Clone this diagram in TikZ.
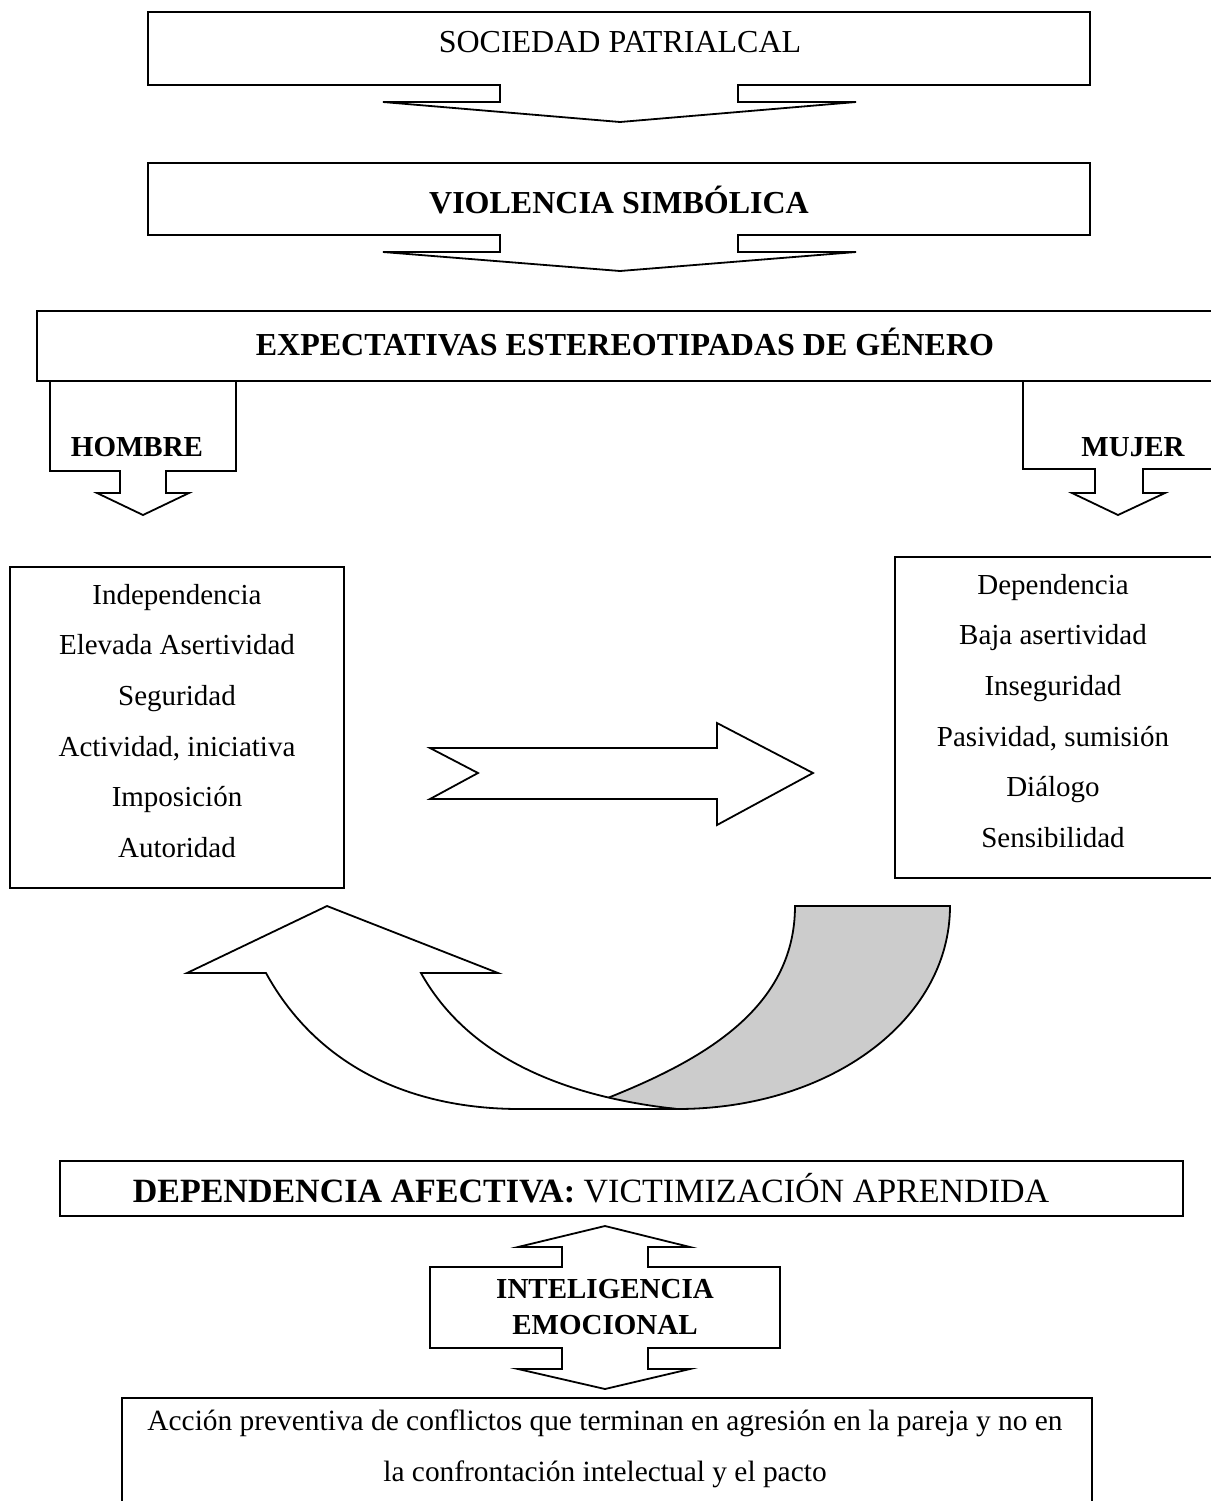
\documentclass[tikz,border=0pt]{standalone}
\usepackage{fontspec}
\setmainfont{Liberation Serif}
\definecolor{shade}{HTML}{CCCCCC}
\begin{document}
\begin{tikzpicture}[x=0.5pt,y=-0.5pt,
  shapeline/.style={draw=black,line width=0.9pt,line join=miter,fill=white},
  txt/.style={inner sep=0pt,font=\fontsize{14.5}{25.35}\selectfont,align=center},
  btxt/.style={txt,font=\fontsize{14.5}{18}\selectfont\bfseries},
  htxt/.style={inner sep=0pt,align=center,font=\fontsize{16}{19}\selectfont}]
\clip (0,0) rectangle (1211,1501);
\fill[white] (0,0) rectangle (1211,1501);
% callout 1
\draw[shapeline] (148,12) -- (1090,12) -- (1090,85) -- (738,85) -- (738,102) -- (856,102) -- (620,122) -- (383,102) -- (500,102) -- (500,85) -- (148,85) -- cycle;
\node[htxt] (soc) at (620,42) {SOCIEDAD PATRIALCAL};
% callout 2
\draw[shapeline] (148,163) -- (1090,163) -- (1090,235) -- (738,235) -- (738,252) -- (856,252) -- (620,271) -- (383,252) -- (500,252) -- (500,235) -- (148,235) -- cycle;
\node[htxt,font=\fontsize{16}{19}\selectfont\bfseries] (vio) at (619,200) {VIOLENCIA SIMBÓLICA};
% box 3
\draw[shapeline] (37,311) rectangle (1216,381);
\node[htxt,font=\fontsize{16}{19}\selectfont\bfseries] (exp) at (625,342) {EXPECTATIVAS ESTEREOTIPADAS DE GÉNERO};
% hombre
\draw[shapeline] (50,381) -- (236,381) -- (236,471) -- (166,471) -- (166,493) -- (189,493) -- (143,515) -- (97,493) -- (120,493) -- (120,471) -- (50,471) -- cycle;
\node[btxt] (hom) at (137,447) {HOMBRE};
% mujer
\draw[shapeline] (1023,381) -- (1213,381) -- (1213,469) -- (1143,469) -- (1143,493) -- (1165,493) -- (1118,515) -- (1072,493) -- (1095,493) -- (1095,469) -- (1023,469) -- cycle;
\node[btxt] (muj) at (1133,447) {MUJER};
% list boxes
\draw[shapeline] (10,567) rectangle (344,888);
\node[txt] (lh) at (177,721) {Independencia\\Elevada Asertividad\\Seguridad\\Actividad, iniciativa\\Imposición\\Autoridad};
\draw[shapeline] (895,557) rectangle (1216,878);
\node[txt] (lm) at (1053,711) {Dependencia\\Baja asertividad\\Inseguridad\\Pasividad, sumisión\\Diálogo\\Sensibilidad};
% middle arrow
\draw[shapeline] (430,748) -- (717,748) -- (717,723) -- (813,773) -- (717,825) -- (717,799) -- (430,799) -- (478,773) -- cycle;
% curved arrows
\draw[shapeline,fill=shade] (795,906) -- (950,906) .. controls (950,1020) and (830,1109) .. (677,1109)
   .. controls (650,1107) and (625,1105) .. (600,1101)
   .. controls (700,1062) and (795,1010) .. cycle;
\draw[shapeline] (677,1109) -- (520,1109) .. controls (410,1109) and (317,1066) .. (266,973)
   -- (187,973) -- (327,906) -- (498,973) -- (421,973)
   .. controls (469,1059) and (567,1097) .. (677,1109) -- cycle;
% dependencia box
\draw[shapeline] (60,1161) rectangle (1183,1216);
\node[inner sep=0pt,font=\fontsize{17}{20}\selectfont] (dep) at (591,1188) {\textbf{DEPENDENCIA AFECTIVA:} VICTIMIZACIÓN APRENDIDA};
% up-down callout
\draw[shapeline] (430,1267) -- (562,1267) -- (562,1247) -- (518,1247) -- (605,1226) -- (690,1247) -- (648,1247) -- (648,1267) -- (780,1267) -- (780,1348) -- (648,1348) -- (648,1369) -- (690,1369) -- (605,1389) -- (518,1369) -- (562,1369) -- (562,1348) -- (430,1348) -- cycle;
\node[btxt] (ie) at (605,1307) {INTELIGENCIA\\EMOCIONAL};
% bottom box
\draw[shapeline] (122,1398) rectangle (1092,1520);
\node[txt,font=\fontsize{14.7}{25.35}\selectfont] (acc) at (605,1449) {Acción preventiva de conflictos que terminan en agresión en la pareja y no en\\la confrontación intelectual y el pacto};
\end{tikzpicture}
\end{document}
